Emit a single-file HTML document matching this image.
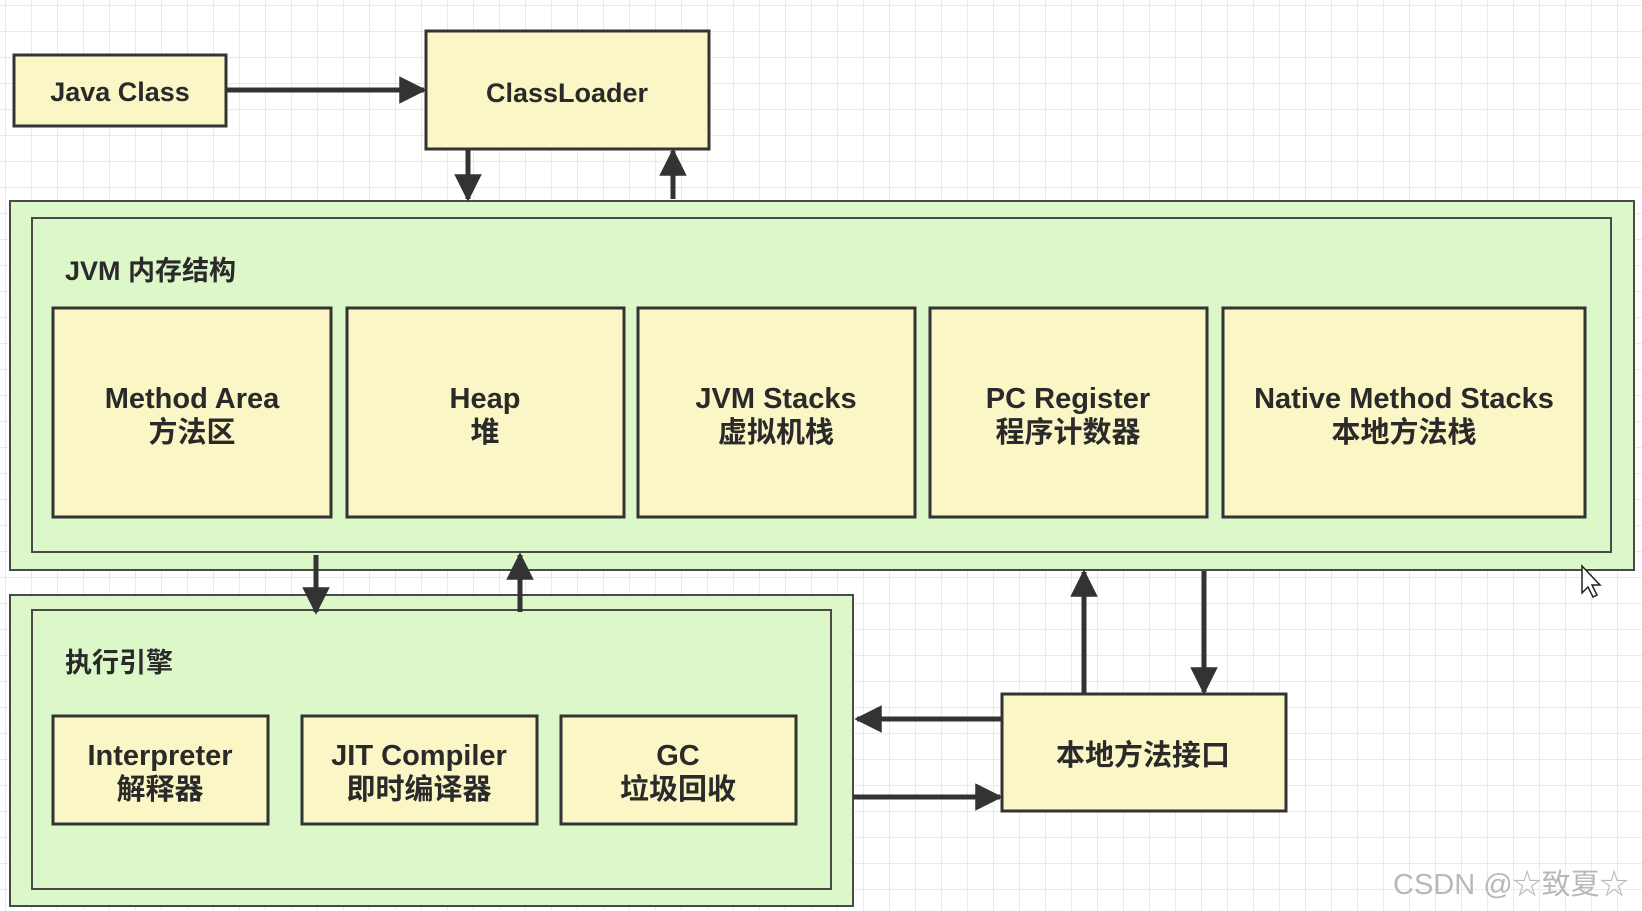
<!DOCTYPE html>
<html><head><meta charset="utf-8"><style>
html,body{margin:0;padding:0;width:1642px;height:911px;overflow:hidden;background:#fff}
svg{display:block}
text{font-family:"Liberation Sans","Noto Sans CJK SC",sans-serif;font-weight:bold;fill:#2a2a2a}
</style></head><body>
<svg width="1642" height="911" viewBox="0 0 1642 911" xmlns="http://www.w3.org/2000/svg">
<defs>
<pattern id="g" width="26" height="26" patternUnits="userSpaceOnUse" x="6" y="6">
<path d="M26 0V26M0 26H26" stroke="#e4e4e4" stroke-width="1.5" fill="none"/>
</pattern>
<marker id="a" viewBox="0 0 10 10" refX="9" refY="5" markerWidth="6" markerHeight="5.5" orient="auto" markerUnits="strokeWidth">
<path d="M0 0L10 5L0 10z" fill="#333"/>
</marker>
</defs>
<rect width="1642" height="911" fill="url(#g)"/>
<g stroke="#333" stroke-width="3">
<rect x="14" y="55" width="212" height="71" fill="#fbf6c6"/>
<rect x="426" y="31" width="283" height="118" fill="#fbf6c6"/>
<rect x="10" y="201" width="1624" height="369" fill="#dcf7c8" stroke="#4a4a4a" stroke-width="2"/>
<rect x="32" y="218" width="1579" height="334" fill="#dcf7c8" stroke="#4a4a4a" stroke-width="2"/>
<rect x="53" y="308" width="278" height="209" fill="#fbf6c6"/>
<rect x="347" y="308" width="277" height="209" fill="#fbf6c6"/>
<rect x="638" y="308" width="277" height="209" fill="#fbf6c6"/>
<rect x="930" y="308" width="277" height="209" fill="#fbf6c6"/>
<rect x="1223" y="308" width="362" height="209" fill="#fbf6c6"/>
<rect x="10" y="595" width="843" height="311" fill="#dcf7c8" stroke="#4a4a4a" stroke-width="2"/>
<rect x="32" y="610" width="799" height="279" fill="#dcf7c8" stroke="#4a4a4a" stroke-width="2"/>
<rect x="53" y="716" width="215" height="108" fill="#fbf6c6"/>
<rect x="302" y="716" width="235" height="108" fill="#fbf6c6"/>
<rect x="561" y="716" width="235" height="108" fill="#fbf6c6"/>
<rect x="1002" y="694" width="284" height="117" fill="#fbf6c6"/>
</g>
<g stroke="#333" stroke-width="5" fill="none" marker-end="url(#a)">
<line x1="226" y1="90" x2="424" y2="90"/>
<line x1="468" y1="149" x2="468" y2="199"/>
<line x1="673" y1="199" x2="673" y2="151"/>
<line x1="316" y1="555" x2="316" y2="612"/>
<line x1="520" y1="612" x2="520" y2="555"/>
<line x1="1084" y1="694" x2="1084" y2="572"/>
<line x1="1204" y1="571" x2="1204" y2="692"/>
<line x1="1002" y1="719" x2="857" y2="719"/>
<line x1="853" y1="797" x2="1000" y2="797"/>
</g>
<g font-size="27" text-anchor="middle">
<text x="120" y="101">Java Class</text>
<text x="567" y="102">ClassLoader</text>
</g>
<g font-size="29" text-anchor="middle">
<text x="192" y="408">Method Area</text><text x="192" y="442">方法区</text>
<text x="485" y="408">Heap</text><text x="485" y="442">堆</text>
<text x="776" y="408">JVM Stacks</text><text x="776" y="442">虚拟机栈</text>
<text x="1068" y="408">PC Register</text><text x="1068" y="442">程序计数器</text>
<text x="1404" y="408">Native Method Stacks</text><text x="1404" y="442">本地方法栈</text>
<text x="160" y="765">Interpreter</text><text x="160" y="799">解释器</text>
<text x="419" y="765">JIT Compiler</text><text x="419" y="799">即时编译器</text>
<text x="678" y="765">GC</text><text x="678" y="799">垃圾回收</text>
<text x="1143" y="765">本地方法接口</text>
</g>
<g font-size="27">
<text x="65" y="280">JVM 内存结构</text>
<text x="65" y="672">执行引擎</text>
</g>
<text x="1393" y="894" font-size="29" style="font-weight:normal;fill:#b8b8b8">CSDN @☆致夏☆</text>
<path d="M1582 566v27l6-6 5 10 4-2-5-10h8z" fill="#fff" stroke="#222" stroke-width="1.5"/>
</svg>
</body></html>
